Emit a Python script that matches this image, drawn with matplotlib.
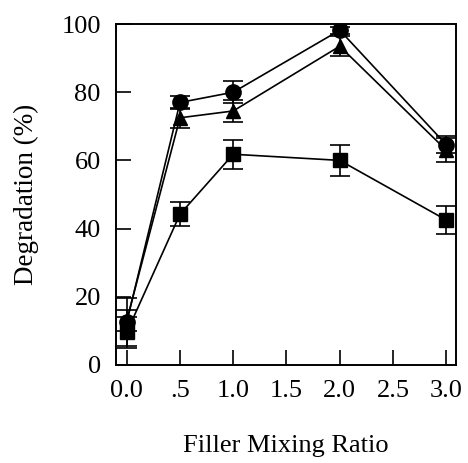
import matplotlib
matplotlib.use('Agg')
import matplotlib.pyplot as plt

plt.rcParams['font.family'] = ['Liberation Serif', 'DejaVu Serif']

ratio = [0.0, 0.5, 1.0, 2.0, 3.0]

# degradation (%) for the three series
circle = [12.5, 77, 80, 98.2, 64.6]
circle_err = [7, 2, 3.2, 1, 2.5]
triangle = [13, 72.5, 74.5, 93.5, 63]
triangle_err = [3, 3, 3.3, 3, 3.5]
square = [9.5, 44.2, 61.8, 60, 42.5]
square_err = [4.5, 3.5, 4.2, 4.5, 4]

xticks = [0.0, 0.5, 1.0, 1.5, 2.0, 2.5, 3.0]
xticklabels = ['0.0', '.5', '1.0', '1.5', '2.0', '2.5', '3.0']
yticks = [0, 20, 40, 60, 80, 100]

fig = plt.figure(figsize=(4.68, 4.63), dpi=100)
ax = fig.add_axes([0.248, 0.212, 0.726, 0.736])

style = dict(color='black', lw=1.2, elinewidth=1.2, capsize=7.5, capthick=1.2)
ax.errorbar(ratio, square, yerr=square_err, marker='s', ms=10, **style)
ax.errorbar(ratio, triangle, yerr=triangle_err, marker='^', ms=10, **style)
ax.errorbar(ratio, circle, yerr=circle_err, marker='o', ms=11, **style)

ax.set_xlim(-0.1, 3.09)
ax.set_ylim(0, 100)
ax.set_xticks(xticks)
ax.set_xticklabels(xticklabels)
ax.set_yticks(yticks)
ax.tick_params(direction='in', length=11, width=1.2, labelsize=19, pad=11,
               top=False, right=False)
for s in ax.spines.values():
    s.set_linewidth(1.4)

ax.set_ylabel('Degradation (%)', fontsize=19.5, labelpad=16)
ax.set_xlabel('Filler Mixing Ratio', fontsize=19, labelpad=24)

fig.savefig('out.png', dpi=100)
